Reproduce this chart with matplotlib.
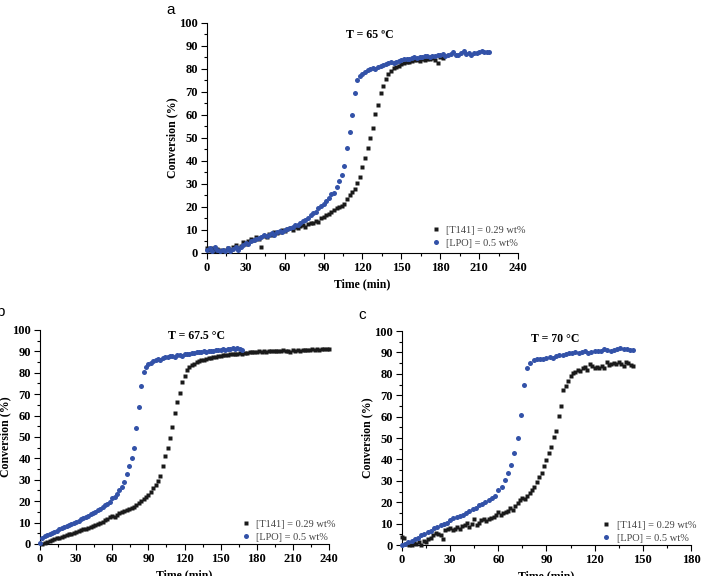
import matplotlib.pyplot as plt
import numpy as np
from matplotlib.ticker import MultipleLocator

# ---- data: conversion (%) sampled every `step` minutes from `t0` ----
# panel a, T = 65 C
a_t141_t0, a_t141_step = 0, 2
a_t141 = [2.0, 1.5, 2.2, 1.0, 1.8, 1.2, 0.8, 1.5, 2.0, 1.3,
          2.5, 3.5, 2.0, 3.2, 4.8, 4.0, 5.0, 6.2, 5.5, 6.8,
          6.0, 2.5, 7.5, 7.0, 8.2, 7.8, 9.0, 8.5, 9.2, 10.0,
          9.5, 10.5, 11.0, 10.2, 11.5, 10.8, 11.8, 12.0, 11.5, 12.8,
          13.2, 13.0, 14.0, 13.5, 15.0, 15.5, 16.5, 17.0, 18.0, 18.5,
          19.5, 20.0, 20.5, 21.5, 23.5, 25.0, 26.5, 28.0, 30.5, 33.0,
          37.5, 41.5, 45.5, 50.0, 54.5, 60.5, 64.5, 69.5, 72.5, 75.5,
          78.0, 79.0, 80.5, 81.0, 81.5, 82.0, 82.5, 83.0, 83.2, 83.5,
          83.8, 84.0, 83.6, 84.2, 84.0, 84.5, 84.2, 84.8, 84.0, 82.8,
          85.0, 84.8]
a_lpo_t0, a_lpo_step = 0, 2
a_lpo = [1.5, 2.0, 1.0, 2.5, 1.2, 0.8, 1.5, 1.0, 2.2, 1.0,
         1.8, 2.5, 1.5, 2.8, 3.5, 4.2, 3.8, 5.0, 5.5, 6.0,
         6.5, 7.0, 7.8, 7.2, 8.0, 8.5, 8.0, 9.0, 9.5, 9.0,
         10.0, 10.5, 11.0, 11.5, 12.0, 12.2, 13.0, 13.8, 14.5, 15.0,
         16.5, 17.2, 18.0, 19.5, 20.5, 21.5, 22.5, 24.0, 25.5, 26.0,
         28.5, 31.5, 34.0, 38.0, 45.5, 52.5, 60.0, 69.5, 75.0, 77.0,
         78.0, 78.5, 79.5, 80.0, 80.5, 80.2, 81.0, 81.5, 81.8, 82.0,
         82.5, 83.0, 82.8, 83.2, 83.5, 84.0, 84.2, 84.5, 84.3, 84.8,
         85.0, 84.6, 85.0, 85.2, 85.8, 85.5, 85.0, 85.8, 85.5, 86.0,
         86.2, 86.5, 85.5, 86.0, 86.5, 87.5, 86.2, 86.0, 86.8, 88.0,
         86.5, 87.0, 86.2, 87.0, 86.8, 87.5, 88.0, 87.2, 87.5, 87.3]

# panel b, T = 67.5 C
b_t141_t0, b_t141_step = 2, 2
b_t141 = [0.0, 0.3, 0.8, 1.2, 1.8, 2.2, 2.6, 3.0, 3.3, 3.8,
          4.2, 4.5, 4.8, 5.2, 5.6, 6.0, 6.5, 7.0, 7.2, 7.5,
          8.0, 8.5, 9.0, 9.5, 10.0, 10.5, 11.0, 11.8, 12.5, 13.0,
          12.8, 13.5, 14.5, 15.0, 15.5, 16.0, 16.5, 17.0, 17.5, 18.2,
          19.0, 20.0, 21.0, 22.0, 23.0, 24.5, 26.0, 27.5, 29.2, 31.6,
          36.5, 40.9, 44.8, 49.6, 54.6, 61.1, 66.4, 70.5, 75.7, 78.5,
          81.3, 82.5, 83.5, 84.2, 85.0, 85.5, 85.8, 86.2, 86.5, 86.8,
          87.0, 87.5, 87.2, 88.0, 87.8, 88.2, 88.5, 88.3, 88.8, 88.6,
          89.0, 88.8, 89.2, 89.0, 89.4, 89.2, 89.6, 89.5, 89.8, 89.6,
          90.0, 89.8, 90.0, 89.7, 90.2, 90.0, 90.3, 90.1, 90.4, 90.2,
          90.5, 90.0, 90.3, 89.8, 90.5, 90.2, 90.6, 90.4, 90.8, 90.5,
          90.7, 90.6, 90.9, 90.7, 91.0, 90.8, 91.2, 91.0, 91.3, 91.0]
b_lpo_t0, b_lpo_step = 0, 2
b_lpo = [0.5, 3.0, 3.8, 4.2, 4.8, 5.2, 5.8, 6.2, 6.8, 7.5,
         8.0, 8.5, 9.0, 9.5, 10.0, 10.2, 10.8, 11.5, 12.0, 12.5,
         13.2, 13.8, 14.5, 15.0, 16.0, 16.5, 17.2, 18.0, 18.8, 19.5,
         21.5, 21.8, 23.5, 25.0, 26.5, 29.0, 32.5, 36.5, 40.0, 45.0,
         54.0, 64.0, 74.0, 80.5, 82.5, 84.0, 84.8, 85.5, 86.0, 86.5,
         86.2, 87.0, 87.5, 87.2, 87.8, 88.0, 87.6, 88.2, 88.5, 88.0,
         88.6, 88.8, 89.0, 89.2, 89.4, 89.6, 89.5, 89.8, 90.0, 89.8,
         90.2, 90.0, 90.4, 90.6, 90.5, 90.8, 91.0, 90.8, 91.2, 91.0,
         91.4, 91.2, 91.5, 91.0, 90.8]

# panel c, T = 70 C
c_t141_t0, c_t141_step = 0, 1.5
c_t141 = [3.8, 3.5, 0.5, 0.2, 0.0, 1.0, 0.5, 1.5, 0.0, 2.0,
          1.5, 3.0, 3.5, 4.5, 5.5, 5.0, 4.5, 3.0, 7.0, 7.5,
          8.0, 7.0, 7.5, 8.5, 7.5, 9.0, 9.5, 10.5, 8.5, 10.0,
          12.0, 9.5, 10.5, 11.5, 12.0, 11.0, 12.0, 12.5, 13.0, 14.0,
          15.5, 14.0, 15.0, 15.5, 16.0, 17.5, 16.5, 18.0, 19.5, 21.0,
          22.0, 21.5, 23.0, 24.5, 25.5, 27.0, 29.5, 32.0, 33.5, 37.0,
          39.5, 43.0, 46.0, 50.5, 53.5, 60.5, 65.0, 72.5, 74.5, 76.5,
          79.0, 80.5, 81.0, 82.0, 81.5, 82.5, 83.0, 82.0, 84.5, 83.5,
          82.5, 83.0, 82.5, 83.5, 82.8, 85.5, 84.0, 84.5, 85.0, 84.8,
          85.5, 84.6, 83.5, 85.5, 85.0, 84.0, 83.5]
c_lpo_t0, c_lpo_step = 0, 2
c_lpo = [0.0, 0.5, 1.2, 2.0, 2.8, 3.5, 4.5, 5.0, 6.0, 6.5,
         8.0, 8.5, 9.5, 10.0, 10.5, 11.5, 12.5, 13.0, 13.5, 14.0,
         15.0, 16.0, 17.0, 17.5, 18.5, 19.0, 20.0, 21.0, 22.0, 23.0,
         25.5, 27.0, 30.5, 33.5, 37.5, 42.8, 50.2, 60.9, 74.6, 82.7,
         85.2, 86.5, 86.8, 87.0, 86.8, 87.5, 88.0, 87.5, 88.5, 89.0,
         88.8, 89.2, 89.5, 89.8, 90.0, 89.8, 90.0, 90.5, 89.8, 90.2,
         90.5, 90.8, 90.6, 91.5, 91.0, 90.8, 91.2, 91.5, 92.0, 91.8,
         91.5, 91.2, 91.3]

titles = ['T = 65 ºC', 'T = 67.5 °C', 'T = 70 °C']
panel_letters = ['a', 'b', 'c']
x_max = [240, 240, 180]
legend_labels = ['[T141] = 0.29 wt%', '[LPO] = 0.5 wt%']


def times(t0, step, vals):
    return t0 + step * np.arange(len(vals))


series = [
    ((a_t141_t0, a_t141_step, a_t141), (a_lpo_t0, a_lpo_step, a_lpo)),
    ((b_t141_t0, b_t141_step, b_t141), (b_lpo_t0, b_lpo_step, b_lpo)),
    ((c_t141_t0, c_t141_step, c_t141), (c_lpo_t0, c_lpo_step, c_lpo)),
]

serif = 'Liberation Serif'
fig = plt.figure(figsize=(7.06, 5.76), dpi=100)
axes = [
    fig.add_axes([0.2932, 0.5608, 0.4405, 0.3993]),
    fig.add_axes([0.0567, 0.0556, 0.4093, 0.3715]),
    fig.add_axes([0.5694, 0.0538, 0.4093, 0.3715]),
]
title_pos = [(0.524, 0.948), (0.543, 0.972), (0.529, 0.963)]
letter_pos = [(0.241, 0.982), (0.0, 0.458), (0.513, 0.453)]
legend_anchor = [(1.045, -0.005), (1.045, -0.02), (1.04, -0.02)]

for i, ax in enumerate(axes):
    (bt0, bst, bv), (lt0, lst, lv) = series[i]
    ax.plot(times(bt0, bst, bv), bv, 's', color='#1a1a1a', ms=3.0,
            mec='none', label=legend_labels[0], clip_on=False, zorder=3)
    ax.plot(times(lt0, lst, lv), lv, 'o', color='#3352a8', ms=3.6,
            mec='none', label=legend_labels[1], clip_on=False, zorder=3)

    ax.set_xlim(0, x_max[i])
    ax.set_ylim(0, 100)
    ax.xaxis.set_major_locator(MultipleLocator(30))
    ax.xaxis.set_minor_locator(MultipleLocator(15))
    ax.yaxis.set_major_locator(MultipleLocator(10))
    ax.yaxis.set_minor_locator(MultipleLocator(5))
    ax.tick_params(which='major', direction='out', length=4.5, width=0.8,
                   labelsize=9, pad=2)
    ax.tick_params(which='minor', direction='out', length=2.2, width=0.8)
    for lab in ax.get_xticklabels() + ax.get_yticklabels():
        lab.set_fontfamily(serif)
        lab.set_fontweight('bold')
    for s in ['top', 'right']:
        ax.spines[s].set_visible(False)
    for s in ['left', 'bottom']:
        ax.spines[s].set_linewidth(0.8)

    ax.set_xlabel('Time (min)', fontfamily=serif, fontweight='bold',
                  fontsize=8.5, labelpad=3)
    ax.set_ylabel('Conversion (%)', fontfamily=serif, fontweight='bold',
                  fontsize=8.5, labelpad=1)
    ax.text(*title_pos[i], titles[i], transform=ax.transAxes, ha='center',
            va='center', fontfamily=serif, fontweight='bold', fontsize=8.5)

    leg = ax.legend(loc='lower right', bbox_to_anchor=legend_anchor[i],
                    frameon=False, handlelength=0.8, handletextpad=0.6,
                    labelspacing=0.35, borderaxespad=0.2,
                    prop={'family': serif, 'size': 7.5})
    for txt in leg.get_texts():
        txt.set_color('#444444')

    fig.text(*letter_pos[i], panel_letters[i], fontsize=11,
             fontfamily='Liberation Sans', ha='center', va='center')

fig.savefig('out.png', dpi=100)
